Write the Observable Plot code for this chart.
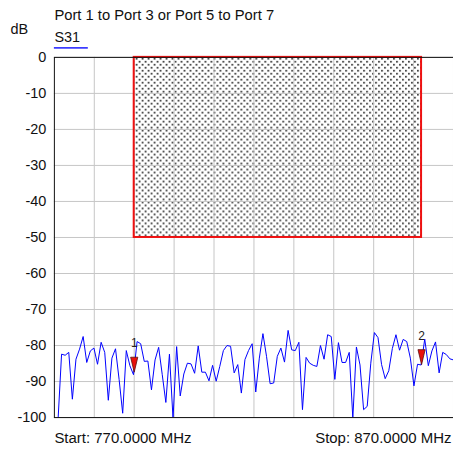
<!DOCTYPE html>
<html><head><meta charset="utf-8">
<script src="https://cdn.jsdelivr.net/npm/d3@7"></script>
<script src="https://cdn.jsdelivr.net/npm/@observablehq/plot@0.6"></script>
<style>
html,body{margin:0;padding:0;background:#fff;overflow:hidden;}
#chart{width:453px;height:450px;overflow:hidden;}
</style></head><body><div id="chart"></div>
<script>
// ---- texts ----
const titleText = "Port 1 to Port 3 or Port 5 to Port 7";
const traceName = "S31";
const yUnit = "dB";
const startLabel = "Start: 770.0000 MHz";
const stopLabel = "Stop: 870.0000 MHz";

// ---- sweep ----
const startMHz = 770;
const stopMHz = 870;

// ---- axes ----
const yTicks = [0, -10, -20, -30, -40, -50, -60, -70, -80, -90, -100];
const xGridMHz = [780, 790, 800, 810, 820, 830, 840, 850, 860];

// ---- S31 trace (dB), one value per sweep point ----
const s31 = [
  -104, -101,
  -82.4, -82.7, -81.9, -94.9, -83.8, -81.0, -77.5, -84.7, -81.5, -80.7, -85.2, -79.1, -81.9, -95.2, -83.5, -80.9, -89.4, -98.8, -81.4, -85.6, -88.1,
  -78.9, -79.5, -84.4, -84.3, -92.3, -84.0, -80.5, -88.1, -95.8, -82.4, -100.3, -80.3, -94.0, -87.9, -84.9, -85.1, -87.7, -80.1, -87.4, -87.4, -89.8, -85.5,
  -89.9, -85.8, -81.4, -80.0, -80.2, -87.6, -85.3, -93.2, -83.9, -81.4, -79.5, -92.9, -83.5, -76.7, -83.0, -90.6, -90.4, -83.0, -80.7, -84.6, -75.8, -81.2, -81.4, -79.1, -97.8, -83.3, -84.9, -85.5, -85.8,
  -80.0, -83.8, -77.0, -77.5, -89.4, -79.2, -84.7, -84.7, -81.9, -100.2, -80.4, -85.4, -97.8, -96.9, -84.9, -76.4, -77.8, -85.3, -89.2, -87.0, -80.8, -77.0, -81.3, -78.3, -78.9, -83.5, -91.2, -85.2, -85.4, -78.2, -85.6, -81.5, -79.0, -87.6, -81.9, -82.5, -83.7,
  -84.0
];

// ---- limit mask ----
const limitBandMHz = [790, 862];
const limitLevelsDb = [-50, 0];

// ---- markers ----
const markerIds = ["1", "2"];
const markerMHz = [790, 862];
const markerDb = [-87.4, -85.3];

// ---- build tables ----
const n = s31.length;
const trace = s31.map((v, i) => ({f: startMHz + i * (stopMHz - startMHz) / (n - 1), db: v}));
const limitRect = [{x1: limitBandMHz[0], x2: limitBandMHz[1], y1: limitLevelsDb[0], y2: limitLevelsDb[1]}];
const markers = markerIds.map((id, i) => ({id, f: markerMHz[i], db: markerDb[i]}));

const markerSymbol = {
  draw(ctx) {
    ctx.moveTo(0, 0);
    ctx.lineTo(-3.6, -15);
    ctx.lineTo(3.6, -15);
    ctx.closePath();
  }
};

const FONT = "'Liberation Sans', Arial, Helvetica, sans-serif";

const plot = Plot.plot({
  width: 454,
  height: 450,
  marginTop: 57,
  marginBottom: 32,
  marginLeft: 54,
  marginRight: 0,
  style: {fontFamily: FONT, background: "white", overflow: "visible"},
  x: {domain: [startMHz, stopMHz], axis: null},
  y: {domain: [-100, 0], axis: null},
  marks: [
    Plot.rect(limitRect, {x1: "x1", x2: "x2", y1: "y1", y2: "y2", fill: "url(#dots)"}),
    Plot.ruleX(xGridMHz, {stroke: "#c6c6c6", strokeWidth: 1}),
    Plot.ruleY(yTicks, {stroke: "#c6c6c6", strokeWidth: 1}),
    Plot.rect(limitRect, {x1: "x1", x2: "x2", y1: "y1", y2: "y2", fill: "none", stroke: "#ee1111", strokeWidth: 2}),
    Plot.line(trace, {x: "f", y: "db", stroke: "#0000ff", strokeWidth: 1, clip: true}),
    Plot.frame({stroke: "#111", strokeWidth: 1}),
    Plot.axisY({ticks: yTicks, tickSize: 0, tickPadding: 8, fontSize: 14.5, label: null,
      tickFormat: d => String(d), fill: "#111"}),
    Plot.dot(markers, {x: "f", y: "db", symbol: markerSymbol, fill: "#e8100c", stroke: "#5a1010", strokeWidth: 0.8}),
    Plot.text(markers, {x: "f", y: "db", text: "id", dy: -25, lineAnchor: "bottom", fontSize: 12, fill: "#222"}),
    Plot.text([titleText], {frameAnchor: "top-left", dy: -37, lineAnchor: "bottom", textAnchor: "start", fontSize: 14.8, fill: "#111"}),
    Plot.text([traceName], {frameAnchor: "top-left", dy: -15, lineAnchor: "bottom", textAnchor: "start", fontSize: 14.5, fill: "#111"}),
    Plot.text([yUnit], {frameAnchor: "top-left", dx: -44, dy: -23.5, lineAnchor: "bottom", textAnchor: "start", fontSize: 14.5, fill: "#111"}),
    Plot.text([startLabel], {frameAnchor: "bottom-left", dy: 25, lineAnchor: "bottom", textAnchor: "start", fontSize: 15, fill: "#111"}),
    Plot.text([stopLabel], {frameAnchor: "bottom-right", dx: -2, dy: 25, lineAnchor: "bottom", textAnchor: "end", fontSize: 15, fill: "#111"})
  ]
});

// dotted fill pattern for the limit mask
const svg = d3.select(plot);
const defs = svg.insert("defs", ":first-child");
const pat = defs.append("pattern")
  .attr("id", "dots")
  .attr("patternUnits", "userSpaceOnUse")
  .attr("width", 6).attr("height", 6);
pat.append("rect").attr("x", 1).attr("y", 1).attr("width", 1.7).attr("height", 1.7).attr("fill", "#2a2a2a");
pat.append("rect").attr("x", 4).attr("y", 4).attr("width", 1.7).attr("height", 1.7).attr("fill", "#2a2a2a");

// legend underline for the trace name
svg.append("line")
  .attr("x1", 54).attr("x2", 88).attr("y1", 48).attr("y2", 48)
  .attr("stroke", "#3c3cff").attr("stroke-width", 1.6);

document.getElementById("chart").appendChild(plot);
</script>
</body></html>
